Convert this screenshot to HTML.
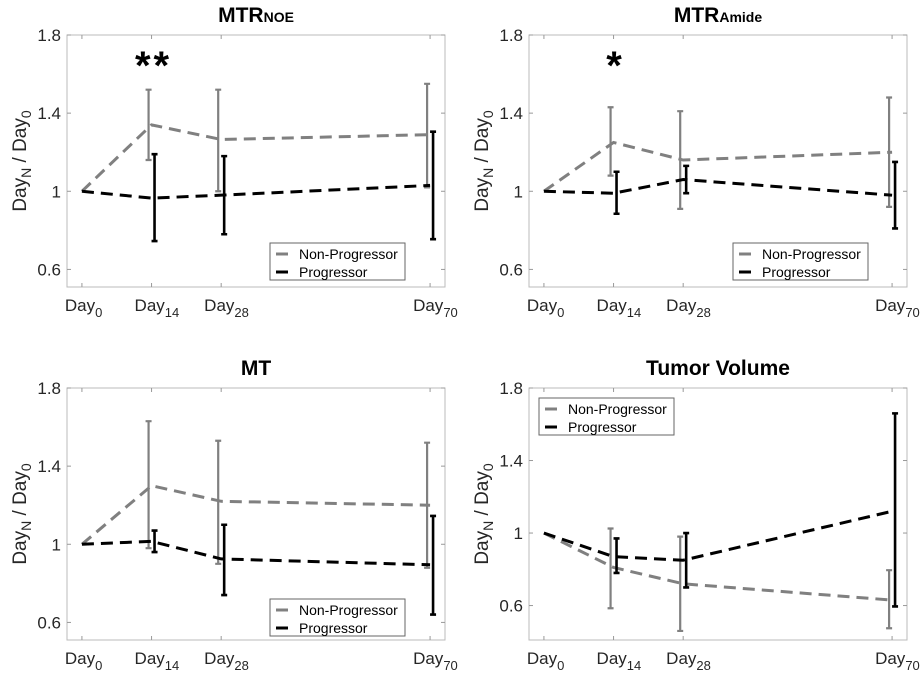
<!DOCTYPE html>
<html><head><meta charset="utf-8"><style>
body{margin:0;background:#fff;}
svg{display:block;font-family:"Liberation Sans",Arial,sans-serif;}
</style></head><body>
<svg id="c" width="920" height="677"></svg>
<script>
const days=[0,14,28,70];
const dayLabels=["0","14","28","70"];
const yTicks=[0.6,1,1.4,1.8];
const titles=["MTR","MTR","MT","Tumor Volume"];
const titleSubs=["NOE","Amide","",""];
const npMean=[[1,1.34,1.265,1.29],[1,1.25,1.16,1.2],[1,1.3,1.22,1.2],[1,0.81,0.72,0.63]];
const npLo=[[1,1.16,1.0,1.02],[1,1.08,0.91,0.92],[1,0.98,0.9,0.88],[1,0.585,0.46,0.475]];
const npHi=[[1,1.52,1.52,1.55],[1,1.43,1.41,1.48],[1,1.63,1.53,1.52],[1,1.025,0.98,0.795]];
const pMean=[[1,0.965,0.98,1.03],[1,0.99,1.06,0.98],[1,1.015,0.925,0.895],[1,0.87,0.85,1.12]];
const pLo=[[1,0.745,0.78,0.755],[1,0.885,0.99,0.81],[1,0.96,0.74,0.64],[1,0.78,0.70,0.595]];
const pHi=[[1,1.19,1.18,1.305],[1,1.1,1.13,1.15],[1,1.07,1.1,1.145],[1,0.97,1.0,1.66]];
const stars=["**","*","",""];
const yMin=[0.51,0.51,0.51,0.41];

const svg=document.getElementById('c');
const NS="http://www.w3.org/2000/svg";
function mk(t,a,p){const e=document.createElementNS(NS,t);for(const k in a)e.setAttribute(k,a[k]);(p||svg).appendChild(e);return e;}
const panels=[{x0:67,x1:445,y0:35,y1:287},{x0:529,x1:907,y0:35,y1:287},{x0:67,x1:445,y0:388,y1:640},{x0:529,x1:907,y0:388,y1:640}];
const legPos=[[270,243],[733,243],[270,599],[539,398]];
panels.forEach((P,i)=>{
  const g=mk('g',{});
  
  
  const xs=d=>P.x0+(d+3)*(P.x1-P.x0)/76;
  const ys=v=>P.y1-(v-yMin[i])*(P.y1-P.y0)/(1.8-yMin[i]);
  const box=mk('rect',{x:P.x0,y:P.y0,width:P.x1-P.x0,height:P.y1-P.y0,fill:'none',stroke:'#bbb','stroke-width':1},g);
  
  
  yTicks.forEach(t=>{
    const y=ys(t);
    mk('line',{x1:P.x0,x2:P.x0+4,y1:y,y2:y,stroke:'#999'},g);
    mk('line',{x1:P.x1,x2:P.x1-4,y1:y,y2:y,stroke:'#999'},g);
    const tx=mk('text',{x:P.x0-6,y:y+6,'text-anchor':'end','font-size':17,fill:'#262626'},g);
    tx.textContent=String(t);
    
    
  });
  days.forEach((d,k)=>{
    const x=xs(d);
    mk('line',{x1:x,x2:x,y1:P.y1,y2:P.y1-4,stroke:'#999'},g);
    mk('line',{x1:x,x2:x,y1:P.y0,y2:P.y0+4,stroke:'#999'},g);
    const tx=mk('text',{x:x-17,y:P.y1+24,'font-size':17,fill:'#262626'},g);
    tx.innerHTML='Day<tspan dy="6" font-size="13">'+dayLabels[k]+'</tspan>';
    
    
  });
  const yl=mk('text',{transform:`translate(${P.x0-41},${(P.y0+P.y1)/2}) rotate(-90)`,'text-anchor':'middle','font-size':19,fill:'#262626'},g);
  yl.innerHTML='Day<tspan dy="5" font-size="14">N</tspan><tspan dy="-5"> / Day</tspan><tspan dy="5" font-size="14">0</tspan>';
  
  
  const tt=mk('text',{x:(P.x0+P.x1)/2,y:P.y0-13,'text-anchor':'middle','font-size':21,'font-weight':'bold',fill:'#000'},g);
  tt.innerHTML=titles[i]+(titleSubs[i]?'<tspan font-size="14">'+titleSubs[i]+'</tspan>':'');
  
  
  const series=[[npMean[i],npLo[i],npHi[i],'#808080',-0.6,2.2,'non-progressor'],[pMean[i],pLo[i],pHi[i],'#000',0.6,2.6,'progressor']];
  series.forEach(([m,lo,hi,col,off,w,nm])=>{
    const pts=days.map((d,k)=>xs(d)+','+ys(m[k])).join(' ');
    const pl=mk('polyline',{points:pts,fill:'none',stroke:col,'stroke-width':3,'stroke-dasharray':'12,7'},g);
    
    
    days.forEach((d,k)=>{
      if(k===0)return;
      const x=xs(d+off);
      const eb=mk('path',{d:`M${x},${ys(lo[k])}V${ys(hi[k])}M${x-3},${ys(lo[k])}h6M${x-3},${ys(hi[k])}h6`,stroke:col,'stroke-width':w,fill:'none'},g);
      
      
    });
  });
  if(stars[i]){
    const s=mk('text',{x:xs(14)+2,y:P.y0+44,'text-anchor':'middle','font-size':40,'font-weight':'bold','letter-spacing':3,fill:'#000'},g);
    s.textContent=stars[i];
    
    
  }
  const [lx,ly]=legPos[i];
  const lg=mk('g',{},g);
  
  
  mk('rect',{x:lx,y:ly,width:135,height:37,fill:'#fff',stroke:'#666'},lg);
  [['Non-Progressor','#808080'],['Progressor','#000']].forEach(([t,c],k)=>{
    const yy=ly+11+k*18;
    mk('line',{x1:lx+6,x2:lx+18,y1:yy,y2:yy,stroke:c,'stroke-width':3},lg);
    const lt=mk('text',{x:lx+29,y:yy+5,'font-size':14,fill:'#000'},lg);
    lt.textContent=t;
    
    
  });
});
</script>
</body></html>
